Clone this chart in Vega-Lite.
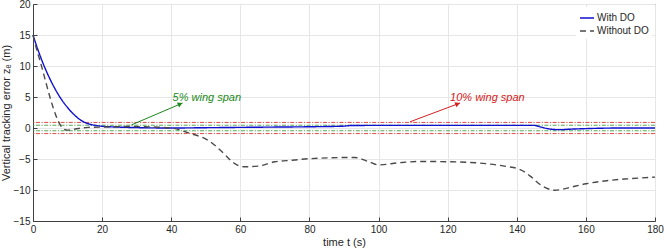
{
  "$schema": "https://vega.github.io/schema/vega-lite/v6.json",
  "width": 622,
  "height": 217,
  "autosize": "none",
  "padding": {"left": 33, "top": 4, "right": 9, "bottom": 28},
  "background": "white",
  "config": {
    "font": "Liberation Sans",
    "view": {"stroke": "#404040", "strokeWidth": 1},
    "axis": {
      "labelFont": "Liberation Sans", "labelFontSize": 10, "labelColor": "#262626",
      "titleFont": "Liberation Sans", "titleFontSize": 11, "titleColor": "#262626", "titleFontWeight": "normal",
      "gridColor": "#e6e6e6", "gridWidth": 1,
      "domainColor": "#404040", "tickColor": "#404040",
      "tickSize": -4, "labelPadding": 7, "labelOverlap": false, "labelFlush": false, "labelBound": false
    }
  },
  "datasets": {
    "lines": [
      {"t": 0, "z": 15, "series": "With DO"},
      {"t": 1, "z": 13.3, "series": "With DO"},
      {"t": 2, "z": 11.75, "series": "With DO"},
      {"t": 3, "z": 10.3, "series": "With DO"},
      {"t": 4, "z": 9.0, "series": "With DO"},
      {"t": 5, "z": 7.8, "series": "With DO"},
      {"t": 6, "z": 6.7, "series": "With DO"},
      {"t": 7, "z": 5.7, "series": "With DO"},
      {"t": 8, "z": 4.8, "series": "With DO"},
      {"t": 9, "z": 4.0, "series": "With DO"},
      {"t": 10, "z": 3.3, "series": "With DO"},
      {"t": 11, "z": 2.65, "series": "With DO"},
      {"t": 12, "z": 2.1, "series": "With DO"},
      {"t": 13, "z": 1.6, "series": "With DO"},
      {"t": 14, "z": 1.2, "series": "With DO"},
      {"t": 15, "z": 0.9, "series": "With DO"},
      {"t": 16, "z": 0.68, "series": "With DO"},
      {"t": 18, "z": 0.42, "series": "With DO"},
      {"t": 20, "z": 0.28, "series": "With DO"},
      {"t": 25, "z": 0.14, "series": "With DO"},
      {"t": 30, "z": 0.06, "series": "With DO"},
      {"t": 40, "z": 0.0, "series": "With DO"},
      {"t": 50, "z": 0.05, "series": "With DO"},
      {"t": 60, "z": 0.1, "series": "With DO"},
      {"t": 70, "z": 0.15, "series": "With DO"},
      {"t": 80, "z": 0.2, "series": "With DO"},
      {"t": 90, "z": 0.3, "series": "With DO"},
      {"t": 92, "z": 0.4, "series": "With DO"},
      {"t": 100, "z": 0.42, "series": "With DO"},
      {"t": 120, "z": 0.42, "series": "With DO"},
      {"t": 140, "z": 0.43, "series": "With DO"},
      {"t": 145, "z": 0.42, "series": "With DO"},
      {"t": 147, "z": 0.15, "series": "With DO"},
      {"t": 150, "z": -0.2, "series": "With DO"},
      {"t": 152.5, "z": -0.27, "series": "With DO"},
      {"t": 155, "z": -0.2, "series": "With DO"},
      {"t": 160, "z": -0.1, "series": "With DO"},
      {"t": 165, "z": -0.03, "series": "With DO"},
      {"t": 170, "z": 0, "series": "With DO"},
      {"t": 180, "z": 0, "series": "With DO"},
      {"t": 0, "z": 15, "series": "Without DO"},
      {"t": 1, "z": 12.8, "series": "Without DO"},
      {"t": 2, "z": 10.9, "series": "Without DO"},
      {"t": 3, "z": 8.9, "series": "Without DO"},
      {"t": 4, "z": 6.8, "series": "Without DO"},
      {"t": 5, "z": 4.8, "series": "Without DO"},
      {"t": 6, "z": 3.0, "series": "Without DO"},
      {"t": 7, "z": 1.5, "series": "Without DO"},
      {"t": 8, "z": 0.4, "series": "Without DO"},
      {"t": 9, "z": -0.2, "series": "Without DO"},
      {"t": 10, "z": -0.35, "series": "Without DO"},
      {"t": 11, "z": -0.3, "series": "Without DO"},
      {"t": 12, "z": -0.2, "series": "Without DO"},
      {"t": 14, "z": 0.0, "series": "Without DO"},
      {"t": 16, "z": 0.1, "series": "Without DO"},
      {"t": 20, "z": 0.15, "series": "Without DO"},
      {"t": 28, "z": 0.25, "series": "Without DO"},
      {"t": 35, "z": 0.15, "series": "Without DO"},
      {"t": 40, "z": 0.0, "series": "Without DO"},
      {"t": 45, "z": -0.8, "series": "Without DO"},
      {"t": 51, "z": -2.1, "series": "Without DO"},
      {"t": 55, "z": -4.0, "series": "Without DO"},
      {"t": 58, "z": -5.6, "series": "Without DO"},
      {"t": 61, "z": -6.25, "series": "Without DO"},
      {"t": 65, "z": -6.15, "series": "Without DO"},
      {"t": 70, "z": -5.45, "series": "Without DO"},
      {"t": 75, "z": -5.2, "series": "Without DO"},
      {"t": 80, "z": -4.95, "series": "Without DO"},
      {"t": 93, "z": -4.75, "series": "Without DO"},
      {"t": 97, "z": -5.4, "series": "Without DO"},
      {"t": 100, "z": -5.95, "series": "Without DO"},
      {"t": 106, "z": -5.6, "series": "Without DO"},
      {"t": 112, "z": -5.4, "series": "Without DO"},
      {"t": 121, "z": -5.45, "series": "Without DO"},
      {"t": 131, "z": -5.75, "series": "Without DO"},
      {"t": 137, "z": -6.2, "series": "Without DO"},
      {"t": 141, "z": -6.7, "series": "Without DO"},
      {"t": 144, "z": -7.8, "series": "Without DO"},
      {"t": 146, "z": -8.8, "series": "Without DO"},
      {"t": 149, "z": -9.8, "series": "Without DO"},
      {"t": 151, "z": -10.05, "series": "Without DO"},
      {"t": 153, "z": -9.9, "series": "Without DO"},
      {"t": 156, "z": -9.5, "series": "Without DO"},
      {"t": 160, "z": -9.0, "series": "Without DO"},
      {"t": 166, "z": -8.5, "series": "Without DO"},
      {"t": 172, "z": -8.2, "series": "Without DO"},
      {"t": 180, "z": -7.93, "series": "Without DO"}
    ],
    "bounds": [
      {"level": 0.9, "band": "10%"},
      {"level": -0.9, "band": "10%"},
      {"level": 0.45, "band": "5%"},
      {"level": -0.45, "band": "5%"}
    ],
    "arrows": [
      {"t": 28.5, "z": 0.5, "t2": 43.3, "z2": 4.03, "band": "5%", "ht": 42.6, "hz": 3.87},
      {"t": 109.1, "z": 1.0, "t2": 123.6, "z2": 4.03, "band": "10%", "ht": 122.9, "hz": 3.89}
    ],
    "notes": [
      {"t": 40.4, "z": 4.4, "label": "5% wing span", "band": "5%"},
      {"t": 120.7, "z": 4.4, "label": "10% wing span", "band": "10%"}
    ]
  },
  "layer": [
    {
      "data": {"name": "bounds"},
      "transform": [{"filter": "datum.band == '10%'"}],
      "mark": {"type": "rule", "color": "#e04848", "strokeWidth": 1, "strokeDash": [4, 1.5, 1.2, 1.5]},
      "encoding": {"y": {"field": "level", "type": "quantitative", "scale": {"domain": [-15, 20], "nice": false, "zero": false},
                         "axis": {"values": [-15, -10, -5, 0, 5, 10, 15, 20], "tickCount": 20, "labelOverlap": false, "title": "Vertical tracking error zₑ (m)", "titlePadding": 2}}}
    },
    {
      "data": {"name": "bounds"},
      "transform": [{"filter": "datum.band == '5%'"}],
      "mark": {"type": "rule", "color": "#55a855", "strokeWidth": 1, "strokeDash": [4, 1.5, 1.2, 1.5]},
      "encoding": {"y": {"field": "level", "type": "quantitative"}}
    },
    {
      "data": {"name": "lines"},
      "mark": {"type": "line", "interpolate": "monotone", "strokeWidth": 1.4},
      "encoding": {
        "x": {"field": "t", "type": "quantitative", "scale": {"domain": [0, 180], "nice": false},
              "axis": {"values": [0, 20, 40, 60, 80, 100, 120, 140, 160, 180], "tickCount": 20, "labelOverlap": false, "title": "time t (s)", "titlePadding": 2}},
        "y": {"field": "z", "type": "quantitative",
              "axis": {"values": [-15, -10, -5, 0, 5, 10, 15, 20], "tickCount": 20, "labelOverlap": false, "title": "Vertical tracking error zₑ (m)", "titlePadding": 2}},
        "color": {"field": "series", "type": "nominal",
                  "scale": {"domain": ["With DO", "Without DO"], "range": ["#1010d0", "#4a4a4a"]},
                  "legend": {"title": null, "orient": "top-right", "offset": 3, "fillColor": "white", "padding": 3,
                             "symbolType": "stroke", "symbolSize": 196, "symbolStrokeWidth": 1.4,
                             "labelFontSize": 10, "labelColor": "#262626", "labelFont": "Liberation Sans", "rowPadding": 0, "labelOffset": 2}},
        "strokeDash": {"field": "series", "type": "nominal",
                       "scale": {"domain": ["With DO", "Without DO"], "range": [[1, 0], [6, 4]]},
                       "legend": {"title": null, "orient": "top-right", "offset": 3, "fillColor": "white", "padding": 3,
                             "symbolType": "stroke", "symbolSize": 196, "symbolStrokeWidth": 1.4,
                             "labelFontSize": 10, "labelColor": "#262626", "labelFont": "Liberation Sans", "rowPadding": 0, "labelOffset": 2}}
      }
    },
    {
      "data": {"name": "arrows"},
      "transform": [{"filter": "datum.band == '5%'"}],
      "layer": [
        {"mark": {"type": "rule", "color": "#1a8a1a", "strokeWidth": 1},
         "encoding": {"x": {"field": "t", "type": "quantitative"}, "y": {"field": "z", "type": "quantitative"},
                      "x2": {"field": "t2"}, "y2": {"field": "z2"}}},
        {"mark": {"type": "point", "shape": "triangle-right", "filled": true, "color": "#1a8a1a", "size": 30, "opacity": 1, "angle": -23.3},
         "encoding": {"x": {"field": "ht", "type": "quantitative"}, "y": {"field": "hz", "type": "quantitative"}}}
      ]
    },
    {
      "data": {"name": "arrows"},
      "transform": [{"filter": "datum.band == '10%'"}],
      "layer": [
        {"mark": {"type": "rule", "color": "#d42020", "strokeWidth": 1},
         "encoding": {"x": {"field": "t", "type": "quantitative"}, "y": {"field": "z", "type": "quantitative"},
                      "x2": {"field": "t2"}, "y2": {"field": "z2"}}},
        {"mark": {"type": "point", "shape": "triangle-right", "filled": true, "color": "#d42020", "size": 30, "opacity": 1, "angle": -20.6},
         "encoding": {"x": {"field": "ht", "type": "quantitative"}, "y": {"field": "hz", "type": "quantitative"}}}
      ]
    },
    {
      "data": {"name": "notes"},
      "transform": [{"filter": "datum.band == '5%'"}],
      "mark": {"type": "text", "align": "left", "baseline": "alphabetic", "fontSize": 11, "fontStyle": "italic", "color": "#1a8a1a", "font": "Liberation Sans"},
      "encoding": {"x": {"field": "t", "type": "quantitative"}, "y": {"field": "z", "type": "quantitative"}, "text": {"field": "label"}}
    },
    {
      "data": {"name": "notes"},
      "transform": [{"filter": "datum.band == '10%'"}],
      "mark": {"type": "text", "align": "left", "baseline": "alphabetic", "fontSize": 11, "fontStyle": "italic", "color": "#d42020", "font": "Liberation Sans"},
      "encoding": {"x": {"field": "t", "type": "quantitative"}, "y": {"field": "z", "type": "quantitative"}, "text": {"field": "label"}}
    }
  ]
}
